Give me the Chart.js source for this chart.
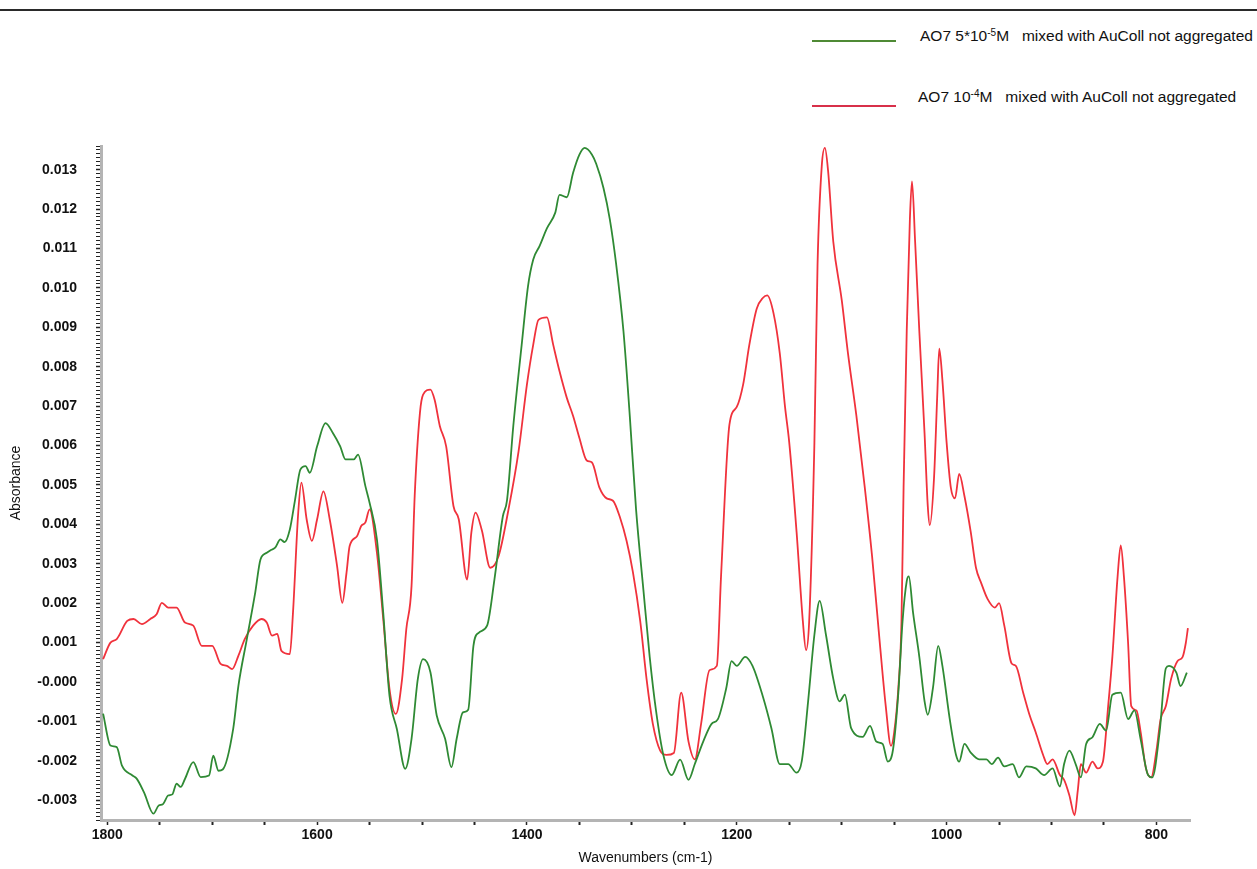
<!DOCTYPE html>
<html>
<head>
<meta charset="utf-8">
<script src="https://cdn.jsdelivr.net/npm/chart.js@4/dist/chart.umd.min.js"></script>
<style>
  html, body { margin: 0; padding: 0; background: #fff; }
  #wrap { position: relative; width: 1257px; height: 869px; overflow: hidden; font-family: "Liberation Sans", Arial, sans-serif; }
  #topRule { position: absolute; left: 0; top: 9px; width: 1257px; height: 2px; background: #2a2a2a; }
  .legLine { position: absolute; left: 812px; width: 84px; height: 0; border-top: 2px solid; }
  .legText { position: absolute; font-size: 15.5px; color: #111; white-space: pre; }
  .legText sup { font-size: 10px; vertical-align: 5px; line-height: 0; }
  canvas { position: absolute; left: 0; top: 0; }
</style>
</head>
<body>
<div id="wrap">
  <div id="topRule"></div>
  <div class="legLine" style="top:40px; border-color:#4f8a35;"></div>
  <div class="legText" style="left:920px; top:27px;">AO7 5*10<sup>-5</sup>M   mixed with AuColl not aggregated</div>
  <div class="legLine" style="top:105px; border-color:#d8304a;"></div>
  <div class="legText" style="left:918px; top:88px;">AO7 10<sup>-4</sup>M   mixed with AuColl not aggregated</div>
  <canvas id="spectrumChart" width="1257" height="869"></canvas>
</div>
<script>
// Series labels
const seriesLabels = ['AO7 5*10-5M mixed with AuColl not aggregated', 'AO7 10-4M mixed with AuColl not aggregated'];

// Green trace: AO7 5*10^-5 M
const greenWavenumbers = [1804, 1797, 1791, 1786, 1776, 1772, 1765, 1756, 1751, 1747, 1742, 1738, 1734, 1730, 1726, 1718, 1711, 1703, 1699, 1694, 1690, 1680, 1675, 1667, 1659, 1654, 1648, 1644, 1640, 1635, 1631, 1626, 1621, 1616, 1611, 1607, 1600, 1592, 1585, 1578, 1573, 1565, 1561, 1554, 1550, 1543, 1537, 1531, 1524, 1516, 1510, 1504, 1499, 1492, 1486, 1478, 1472, 1467, 1461, 1456, 1451, 1446, 1438, 1431, 1423, 1419, 1413, 1405, 1399, 1394, 1388, 1381, 1373, 1369, 1362, 1356, 1350, 1345, 1338, 1334, 1327, 1321, 1315, 1308, 1302, 1296, 1289, 1283, 1277, 1270, 1262, 1254, 1246, 1240, 1232, 1224, 1218, 1210, 1205, 1200, 1192, 1185, 1175, 1167, 1159, 1151, 1143, 1138, 1132, 1126, 1121, 1115, 1108, 1102, 1097, 1091, 1080, 1073, 1067, 1061, 1056, 1051, 1046, 1042, 1038, 1036, 1032, 1026, 1021, 1018, 1013, 1008, 1004, 997, 991, 988, 983, 977, 969, 962, 957, 951, 945, 937, 931, 924, 915, 907, 899, 892, 888, 883, 877, 872, 867, 861, 854, 848, 842, 834, 827, 821, 815, 808, 804, 797, 791, 788, 781, 777, 771];
const greenAbsorbance = [-0.00080, -0.00161, -0.00165, -0.00212, -0.00237, -0.00245, -0.00280, -0.00334, -0.00313, -0.00310, -0.00288, -0.00285, -0.00258, -0.00266, -0.00246, -0.00203, -0.00241, -0.00237, -0.00187, -0.00225, -0.00222, -0.00119, -0.00009, 0.00109, 0.00227, 0.00311, 0.00328, 0.00335, 0.00341, 0.00362, 0.00355, 0.00387, 0.00463, 0.00539, 0.00548, 0.00531, 0.00598, 0.00657, 0.00632, 0.00598, 0.00565, 0.00565, 0.00577, 0.00497, 0.00455, 0.00362, 0.00176, -0.00035, -0.00119, -0.00220, -0.00144, 0.00008, 0.00058, 0.00025, -0.00085, -0.00144, -0.00216, -0.00144, -0.00077, -0.00070, 0.00092, 0.00125, 0.00143, 0.00260, 0.00420, 0.00461, 0.00650, 0.00856, 0.01004, 0.01072, 0.01106, 0.01151, 0.01191, 0.01236, 0.01230, 0.01292, 0.01338, 0.01355, 0.01338, 0.01315, 0.01253, 0.01174, 0.01061, 0.00890, 0.00676, 0.00438, 0.00234, 0.00064, -0.00072, -0.00185, -0.00236, -0.00197, -0.00248, -0.00208, -0.00151, -0.00106, -0.00094, -0.00015, 0.00053, 0.00041, 0.00064, 0.00041, -0.00038, -0.00117, -0.00208, -0.00208, -0.00230, -0.00200, -0.00049, 0.00120, 0.00206, 0.00120, 0.00008, -0.00049, -0.00032, -0.00117, -0.00139, -0.00111, -0.00151, -0.00157, -0.00202, -0.00170, -0.00027, 0.00154, 0.00256, 0.00268, 0.00177, 0.00064, -0.00049, -0.00083, -0.00015, 0.00092, 0.00041, -0.00094, -0.00185, -0.00202, -0.00157, -0.00179, -0.00196, -0.00196, -0.00208, -0.00192, -0.00214, -0.00208, -0.00242, -0.00214, -0.00219, -0.00236, -0.00219, -0.00265, -0.00208, -0.00174, -0.00208, -0.00242, -0.00157, -0.00140, -0.00106, -0.00123, -0.00032, -0.00027, -0.00094, -0.00072, -0.00146, -0.00236, -0.00242, -0.00128, 0.00035, 0.00041, 0.00024, -0.00010, 0.00024];

// Red trace: AO7 10^-4 M
const redWavenumbers = [1804, 1797, 1791, 1781, 1775, 1767, 1759, 1753, 1748, 1742, 1734, 1726, 1718, 1710, 1700, 1692, 1686, 1681, 1675, 1669, 1661, 1653, 1648, 1643, 1638, 1634, 1626, 1623, 1618, 1615, 1610, 1605, 1600, 1594, 1588, 1581, 1576, 1572, 1569, 1562, 1558, 1554, 1550, 1543, 1537, 1531, 1525, 1519, 1515, 1510, 1507, 1502, 1499, 1492, 1488, 1483, 1477, 1470, 1465, 1457, 1453, 1449, 1443, 1435, 1427, 1418, 1408, 1400, 1394, 1389, 1381, 1375, 1369, 1362, 1356, 1350, 1343, 1338, 1331, 1324, 1318, 1311, 1305, 1299, 1292, 1286, 1280, 1273, 1267, 1260, 1253, 1246, 1240, 1234, 1226, 1219, 1215, 1207, 1200, 1194, 1188, 1181, 1175, 1171, 1165, 1159, 1154, 1150, 1143, 1137, 1134, 1131, 1126, 1123, 1119, 1116, 1113, 1108, 1100, 1094, 1086, 1078, 1071, 1064, 1058, 1053, 1050, 1046, 1043, 1041, 1038, 1035, 1033, 1030, 1026, 1021, 1018, 1016, 1012, 1009, 1007, 1004, 1000, 996, 992, 988, 983, 977, 972, 967, 961, 954, 950, 945, 938, 934, 927, 921, 915, 908, 904, 899, 892, 888, 883, 878, 875, 872, 867, 861, 856, 851, 846, 842, 837, 834, 831, 827, 824, 819, 815, 810, 805, 800, 796, 791, 786, 780, 775, 772, 770];
const redAbsorbance = [0.00058, 0.00100, 0.00109, 0.00155, 0.00160, 0.00147, 0.00160, 0.00172, 0.00201, 0.00189, 0.00189, 0.00151, 0.00143, 0.00092, 0.00092, 0.00046, 0.00041, 0.00033, 0.00067, 0.00109, 0.00143, 0.00160, 0.00151, 0.00118, 0.00122, 0.00079, 0.00071, 0.00176, 0.00430, 0.00506, 0.00413, 0.00358, 0.00413, 0.00484, 0.00413, 0.00295, 0.00201, 0.00277, 0.00345, 0.00370, 0.00396, 0.00405, 0.00438, 0.00328, 0.00160, -0.00018, -0.00081, 0.00008, 0.00134, 0.00244, 0.00472, 0.00683, 0.00729, 0.00742, 0.00716, 0.00649, 0.00598, 0.00446, 0.00413, 0.00260, 0.00379, 0.00430, 0.00385, 0.00290, 0.00320, 0.00432, 0.00585, 0.00755, 0.00856, 0.00919, 0.00925, 0.00856, 0.00789, 0.00721, 0.00675, 0.00619, 0.00562, 0.00557, 0.00494, 0.00466, 0.00460, 0.00415, 0.00358, 0.00279, 0.00154, 0.00008, -0.00106, -0.00174, -0.00185, -0.00180, -0.00027, -0.00151, -0.00196, -0.00106, 0.00030, 0.00041, 0.00268, 0.00653, 0.00698, 0.00754, 0.00856, 0.00947, 0.00975, 0.00981, 0.00936, 0.00834, 0.00698, 0.00608, 0.00381, 0.00154, 0.00081, 0.00154, 0.00608, 0.01061, 0.01309, 0.01355, 0.01298, 0.01117, 0.00970, 0.00834, 0.00676, 0.00494, 0.00318, 0.00109, -0.00061, -0.00162, -0.00128, -0.00015, 0.00154, 0.00494, 0.00891, 0.01174, 0.01270, 0.01117, 0.00890, 0.00630, 0.00449, 0.00398, 0.00517, 0.00721, 0.00846, 0.00766, 0.00608, 0.00494, 0.00466, 0.00528, 0.00472, 0.00381, 0.00290, 0.00251, 0.00211, 0.00189, 0.00200, 0.00143, 0.00047, 0.00041, -0.00027, -0.00083, -0.00128, -0.00185, -0.00208, -0.00196, -0.00236, -0.00248, -0.00287, -0.00338, -0.00276, -0.00208, -0.00230, -0.00202, -0.00219, -0.00202, -0.00061, 0.00064, 0.00268, 0.00347, 0.00268, 0.00099, -0.00061, -0.00072, -0.00128, -0.00219, -0.00242, -0.00174, -0.00094, -0.00061, 0.00008, 0.00053, 0.00064, 0.00099, 0.00137];

// Axis ranges
const xRange = [768, 1806];
const yRange = [-0.0035, 0.0136];

const toPoints = (xs, ys) => xs.map((x, i) => ({ x: x, y: ys[i] }));
const FONT = '"Liberation Sans", Arial, sans-serif';

const ctx = document.getElementById('spectrumChart').getContext('2d');
new Chart(ctx, {
    type: 'line',
    data: {
        datasets: [{
            label: seriesLabels[0],
            data: toPoints(greenWavenumbers, greenAbsorbance),
            borderColor: '#2f8a34',
            borderWidth: 1.8,
            pointRadius: 0,
            cubicInterpolationMode: 'monotone'
        }, {
            label: seriesLabels[1],
            data: toPoints(redWavenumbers, redAbsorbance),
            borderColor: '#f0323c',
            borderWidth: 1.8,
            pointRadius: 0,
            cubicInterpolationMode: 'monotone'
        }]
    },
    options: {
        responsive: false,
        animation: false,
        layout: {
            padding: { top: 146, right: 67, left: 0, bottom: 0 }
        },
        plugins: {
            legend: { display: false },
            tooltip: { enabled: false }
        },
        scales: {
            x: {
                type: 'linear',
                reverse: true,
                min: xRange[0],
                max: xRange[1],
                afterFit: s => { s.height = 49; },
                border: { color: '#b4b4b4', width: 3 },
                grid: {
                    drawOnChartArea: false,
                    tickLength: 5,
                    tickColor: '#222',
                    tickWidth: c => (c.tick && c.tick.value % 200 === 0) ? 1.5 : 2
                },
                ticks: {
                    stepSize: 50,
                    includeBounds: false,
                    autoSkip: false,
                    maxRotation: 0,
                    padding: 2,
                    color: '#111',
                    font: { family: FONT, size: 14, weight: 'bold' },
                    callback: v => (v % 200 === 0 ? String(v) : '')
                },
                title: {
                    display: true,
                    text: 'Wavenumbers (cm-1)',
                    color: '#111',
                    font: { family: FONT, size: 14 },
                    padding: { top: 0, bottom: 2 }
                }
            },
            y: {
                min: yRange[0],
                max: yRange[1],
                afterFit: s => { s.width = 101; },
                border: { color: '#b4b4b4', width: 3 },
                grid: {
                    drawOnChartArea: false,
                    tickLength: 5,
                    tickColor: '#222',
                    tickWidth: c => (c.tick && Math.round(c.tick.value * 10000) % 10 === 0) ? 1.5 : 1
                },
                ticks: {
                    stepSize: 0.0001,
                    includeBounds: false,
                    autoSkip: false,
                    maxTicksLimit: 400,
                    padding: 19,
                    color: '#111',
                    font: { family: FONT, size: 14, weight: 'bold' },
                    callback: v => {
                        const n = Math.round(v * 10000);
                        if (n % 10 !== 0) return '';
                        if (n === 0) return '-0.000';
                        return (n / 10000).toFixed(3);
                    }
                },
                title: {
                    display: true,
                    text: 'Absorbance',
                    color: '#111',
                    font: { family: FONT, size: 14 },
                    padding: { top: 8, bottom: 0 }
                }
            }
        }
    }
});
</script>
</body>
</html>
